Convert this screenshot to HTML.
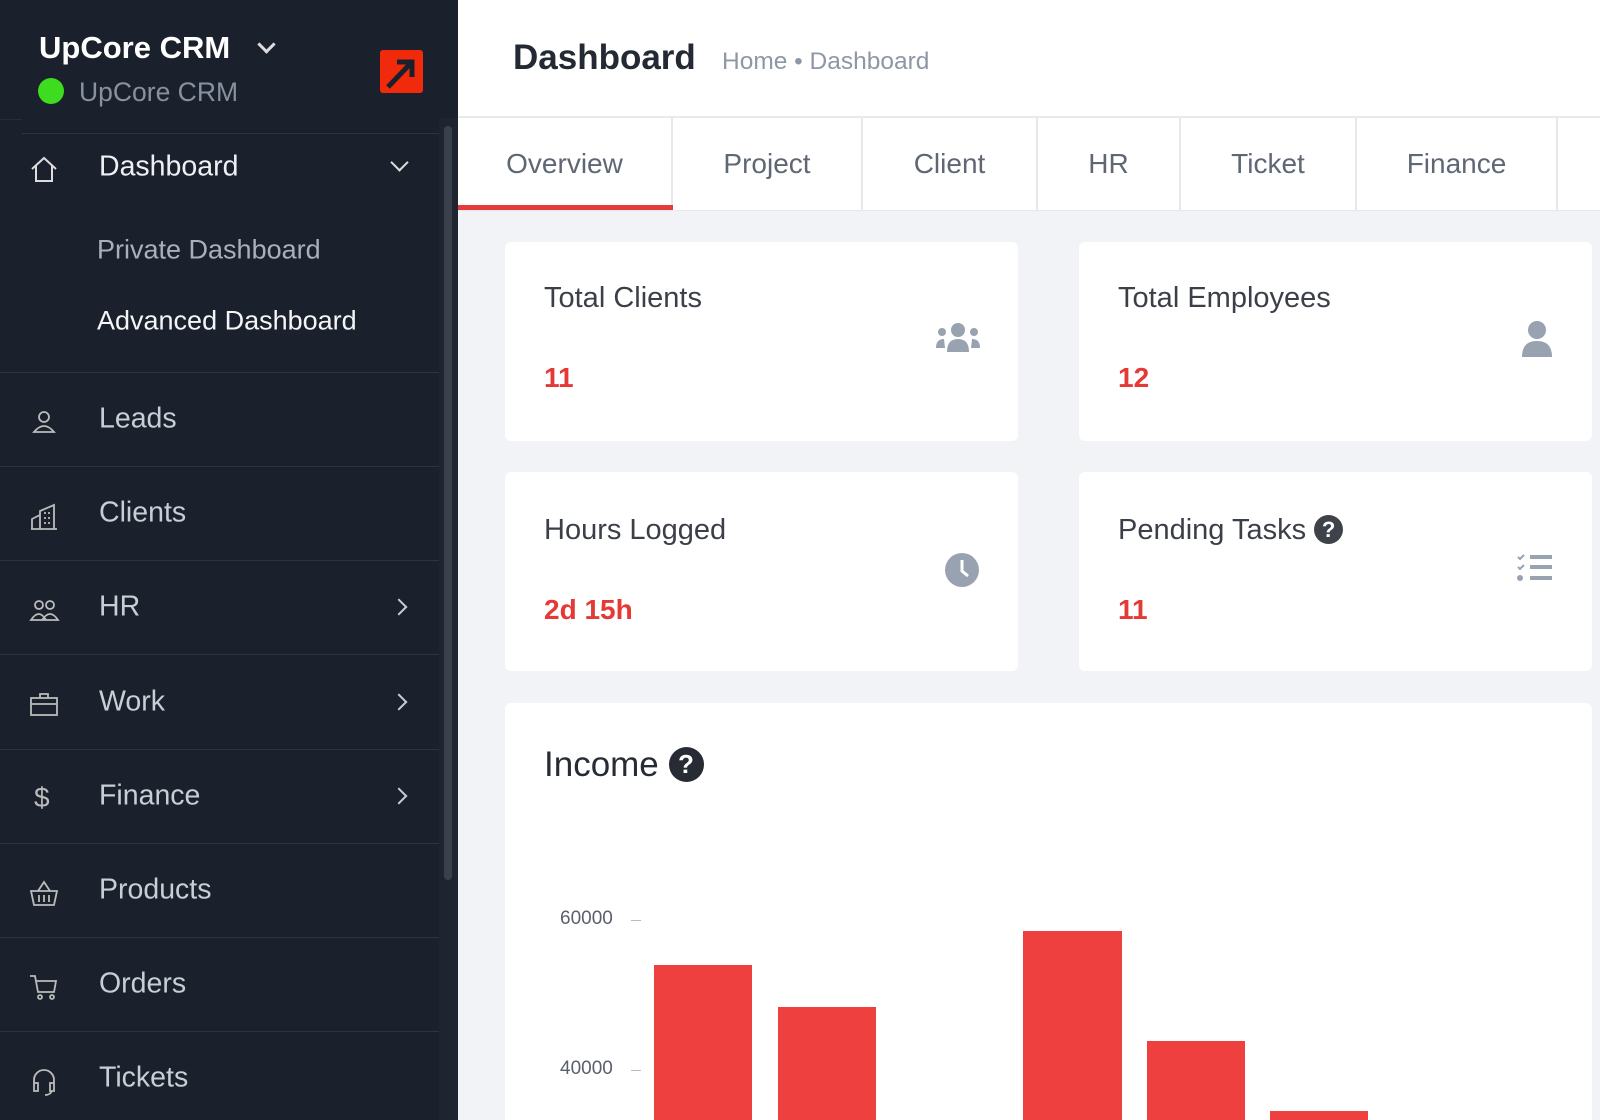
<!DOCTYPE html>
<html style="overflow:hidden"><head><meta charset="utf-8"><style>
*{margin:0;padding:0;box-sizing:border-box}
html,body{width:1600px;height:1120px;overflow:hidden}
body{background:#f1f3f6;font-family:"Liberation Sans",Arial,sans-serif;position:relative}
.a{position:absolute;white-space:nowrap}
#sb{position:absolute;left:0;top:0;width:458px;height:1120px;background:#1b212c}
.sep{position:absolute;left:0;width:439px;height:1px;background:#2d3440}
.mi{position:absolute;left:99px;font-size:28.5px;color:#c9ced6;transform:translateY(-50%)}
.ic{position:absolute;left:28px;width:32px;height:32px;transform:translateY(-50%)}
.chev{position:absolute;left:393px;width:12px;height:12px;border-right:2px solid #c9ced6;border-top:2px solid #c9ced6;transform:translateY(-50%) rotate(45deg)}
.card{position:absolute;background:#fff;border-radius:6px}
.ct{position:absolute;left:39px;font-size:29px;color:#3b3f48}
.cv{position:absolute;left:39px;font-size:28px;font-weight:bold;color:#e53935}
.tab{position:absolute;top:118px;height:92px;border-right:2px solid #e6e8ec;background:#fff;font-size:28px;color:#5f6775;display:flex;align-items:center;justify-content:center}
.bar{position:absolute;background:#ef4040;width:98px}
</style></head><body>
<div id="sb">
  <div class="a" style="left:39px;top:30px;font-size:31px;font-weight:bold;color:#fff">UpCore CRM</div>
  <div class="a" style="left:260px;top:38px;width:13px;height:13px;border-right:3px solid #ddd;border-bottom:3px solid #ddd;transform:rotate(45deg)"></div>
  <div class="a" style="left:38px;top:78px;width:26px;height:26px;border-radius:50%;background:#3ddc1e"></div>
  <div class="a" style="left:79px;top:77px;font-size:26.5px;color:#8791a0">UpCore CRM</div>
  <div class="a" style="left:380px;top:50px;width:43px;height:43px;background:#f22a0c;border-radius:3px"></div>
  <svg class="a" style="left:380px;top:50px" width="43" height="43"><path d="M8 37 L30 14 M17 12 H32 V27" stroke="#1b212c" stroke-width="5" fill="none"/></svg>
  <div class="sep" style="top:119px;background:#262d39;left:0;width:22px"></div>
  <div class="sep" style="top:133px;left:22px;width:417px"></div>
  <div class="a" style="left:439px;top:118px;width:19px;height:1002px;background:#1f2530"></div>
  <div class="a" style="left:444px;top:126px;width:8px;height:754px;background:#3b414c;border-radius:4px"></div>
  <svg class="ic" style="top:169px" viewBox="0 0 32 32"><path d="M4 16 L16 5 L28 16 M8 13 V28 H24 V13" fill="none" stroke="#ddd" stroke-width="2"/></svg>
  <div class="mi" style="top:167px;color:#eef0f3">Dashboard</div>
  <div class="a" style="left:393px;top:156px;width:13px;height:13px;border-right:2px solid #ddd;border-bottom:2px solid #ddd;transform:rotate(45deg)"></div>
  <div class="mi" style="left:97px;top:250px;font-size:27px;color:#a9b0bb">Private Dashboard</div>
  <div class="mi" style="left:97px;top:321px;font-size:27px;color:#f4f5f7">Advanced Dashboard</div>
  <div class="sep" style="top:372px"></div>
  <svg class="ic" style="top:421px" viewBox="0 0 32 32"><circle cx="16" cy="12" r="5" fill="none" stroke="#bbb" stroke-width="1.8"/><path d="M6 27 Q16 15 26 27 Z" fill="none" stroke="#bbb" stroke-width="1.8"/></svg>
  <div class="mi" style="top:419px">Leads</div>
  <div class="sep" style="top:466px"></div>
  <svg class="ic" style="top:517px" viewBox="0 0 32 32"><path d="M4 28 V18 L12 14 V28 M12 28 V10 L26 4 V28 M3 28 H29 M16 12h2M20 12h2M16 17h2M20 17h2M16 22h2M20 22h2" fill="none" stroke="#bbb" stroke-width="1.8"/></svg>
  <div class="mi" style="top:513px">Clients</div>
  <div class="sep" style="top:560px"></div>
  <svg class="ic" style="top:610px" viewBox="0 0 32 32"><circle cx="11" cy="11" r="4" fill="none" stroke="#bbb" stroke-width="1.8"/><circle cx="22" cy="11" r="4" fill="none" stroke="#bbb" stroke-width="1.8"/><path d="M3 26 Q11 14 18 26 Z M14 26 Q22 14 30 26 Z" fill="none" stroke="#bbb" stroke-width="1.8"/></svg>
  <div class="mi" style="top:607px">HR</div><div class="chev" style="top:607px"></div>
  <div class="sep" style="top:654px"></div>
  <svg class="ic" style="top:704px" viewBox="0 0 32 32"><rect x="3" y="10" width="26" height="17" fill="none" stroke="#bbb" stroke-width="1.8"/><path d="M12 10 V6 H20 V10 M3 16 H29" fill="none" stroke="#bbb" stroke-width="1.8"/></svg>
  <div class="mi" style="top:702px">Work</div><div class="chev" style="top:702px"></div>
  <div class="sep" style="top:749px"></div>
  <div class="mi" style="left:34px;top:798px;font-size:28px;color:#bbb">$</div>
  <div class="mi" style="top:796px">Finance</div><div class="chev" style="top:796px"></div>
  <div class="sep" style="top:843px"></div>
  <svg class="ic" style="top:893px" viewBox="0 0 32 32"><path d="M3 14 H29 L26 28 H6 Z M10 14 L16 5 L22 14 M11 18 V25 M16 18 V25 M21 18 V25" fill="none" stroke="#bbb" stroke-width="1.8"/></svg>
  <div class="mi" style="top:890px">Products</div>
  <div class="sep" style="top:937px"></div>
  <svg class="ic" style="top:987px" viewBox="0 0 32 32"><path d="M2 5 H7 L10 21 H26 L28 10 H8" fill="none" stroke="#bbb" stroke-width="1.8"/><circle cx="12" cy="26" r="2" fill="none" stroke="#bbb" stroke-width="1.8"/><circle cx="24" cy="26" r="2" fill="none" stroke="#bbb" stroke-width="1.8"/></svg>
  <div class="mi" style="top:984px">Orders</div>
  <div class="sep" style="top:1031px"></div>
  <svg class="ic" style="top:1081px" viewBox="0 0 32 32"><path d="M6 20 V15 A10 10 0 0 1 26 15 V20 M6 18h4v8H6z M22 18h4v8h-4z M24 26 Q22 30 17 30" fill="none" stroke="#bbb" stroke-width="1.8"/></svg>
  <div class="mi" style="top:1078px">Tickets</div>
</div>
<div class="a" style="left:458px;top:0;width:1142px;height:118px;background:#fff;border-bottom:2px solid #e8eaee"></div>
<div class="a" style="left:513px;top:38px;font-size:35px;font-weight:bold;color:#242a33">Dashboard</div>
<div class="a" style="left:722px;top:48px;font-size:24.5px;color:#8e97a6">Home • Dashboard</div>
<div class="tab" style="left:458px;width:215px;color:#5f6775">Overview</div>
<div class="a" style="left:458px;top:205px;width:215px;height:5px;background:#e63b3b"></div>
<div class="tab" style="left:673px;width:190px">Project</div>
<div class="tab" style="left:863px;width:175px">Client</div>
<div class="tab" style="left:1038px;width:143px">HR</div>
<div class="tab" style="left:1181px;width:176px">Ticket</div>
<div class="tab" style="left:1357px;width:201px">Finance</div>
<div class="tab" style="left:1558px;width:42px;border-right:none"></div>
<div class="a" style="left:458px;top:210px;width:1142px;height:1px;background:#e6e8ec"></div>

<div class="card" style="left:505px;top:242px;width:513px;height:199px">
  <div class="ct" style="top:40px">Total Clients</div><div class="cv" style="top:120px">11</div>
  <svg class="a" style="left:430px;top:80px" width="46" height="34" viewBox="0 0 46 34"><circle cx="23" cy="8" r="7" fill="#98a2b0"/><circle cx="7" cy="10" r="4" fill="#98a2b0"/><circle cx="39" cy="10" r="4" fill="#98a2b0"/><path d="M12 30 Q12 17 23 17 Q34 17 34 30Z M1 26 Q1 17 9 17 L10 26Z M45 26 Q45 17 37 17 L36 26Z" fill="#98a2b0"/></svg>
</div>
<div class="card" style="left:1079px;top:242px;width:513px;height:199px">
  <div class="ct" style="top:40px">Total Employees</div><div class="cv" style="top:120px">12</div>
  <svg class="a" style="left:442px;top:78px" width="32" height="38" viewBox="0 0 32 38"><circle cx="16" cy="10" r="9" fill="#98a2b0"/><path d="M1 37 Q1 21 16 21 Q31 21 31 37Z" fill="#98a2b0"/></svg>
</div>
<div class="card" style="left:505px;top:472px;width:513px;height:199px">
  <div class="ct" style="top:42px">Hours Logged</div><div class="cv" style="top:122px">2d 15h</div>
  <svg class="a" style="left:439px;top:80px" width="36" height="36" viewBox="0 0 36 36"><circle cx="18" cy="18" r="17" fill="#98a2b0"/><path d="M18 8 V19 L24 24" stroke="#fff" stroke-width="3" fill="none"/></svg>
</div>
<div class="card" style="left:1079px;top:472px;width:513px;height:199px">
  <div class="ct" style="top:42px">Pending Tasks <span style="display:inline-block;width:29px;height:29px;border-radius:50%;background:#3e424b;color:#fff;font-size:22px;font-weight:bold;text-align:center;line-height:29px;vertical-align:2px">?</span></div>
  <div class="cv" style="top:122px">11</div>
  <svg class="a" style="left:437px;top:81px" width="38" height="30" viewBox="0 0 38 30"><path d="M2 4 L4 6 L8 2 M2 14 L4 16 L8 12" stroke="#98a2b0" stroke-width="2" fill="none"/><circle cx="4" cy="25" r="3" fill="#98a2b0"/><path d="M14 4 H36 M14 14 H36 M14 25 H36" stroke="#98a2b0" stroke-width="4"/></svg>
</div>
<div class="card" style="left:505px;top:703px;width:1087px;height:417px;border-radius:6px 6px 0 0">
  <div class="a" style="left:39px;top:42px;font-size:35px;color:#272b33">Income <span style="display:inline-block;width:35px;height:35px;border-radius:50%;background:#272b33;color:#fff;font-size:26px;font-weight:bold;text-align:center;line-height:35px;vertical-align:3px">?</span></div>
</div>
<div class="a" style="left:560px;top:908px;font-size:19px;color:#5a606b">60000</div>
<div class="a" style="left:631px;top:920px;width:10px;height:1px;background:#bbb"></div>
<div class="a" style="left:560px;top:1058px;font-size:19px;color:#5a606b">40000</div>
<div class="a" style="left:631px;top:1070px;width:10px;height:1px;background:#bbb"></div>
<div class="bar" style="left:654px;top:965px;height:155px"></div>
<div class="bar" style="left:778px;top:1007px;height:113px"></div>
<div class="bar" style="left:1023px;top:931px;height:189px;width:99px"></div>
<div class="bar" style="left:1147px;top:1041px;height:79px"></div>
<div class="bar" style="left:1270px;top:1111px;height:9px"></div>
</body></html>
